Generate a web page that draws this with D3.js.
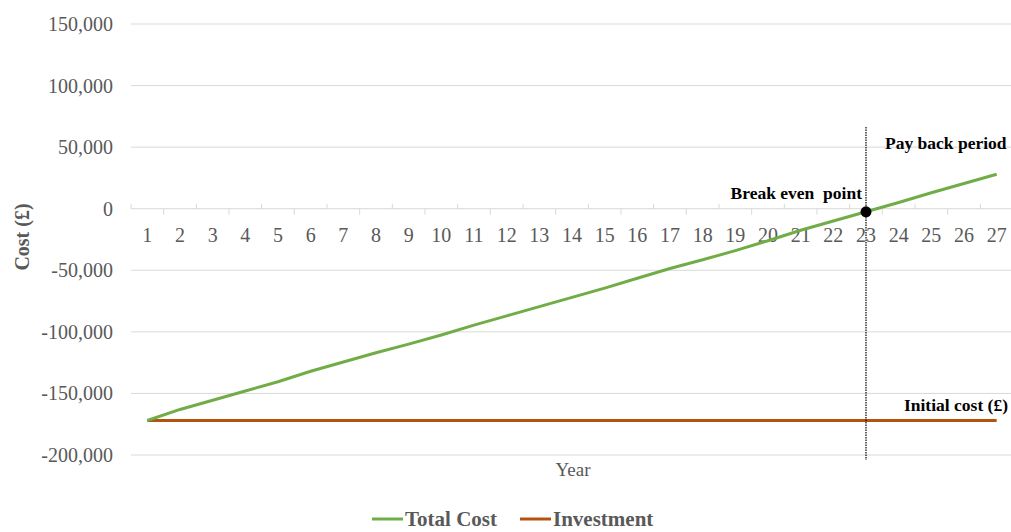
<!DOCTYPE html>
<html lang="en">
<head>
<meta charset="UTF-8">
<title>Payback chart</title>
<script src="https://d3js.org/d3.v7.min.js"></script>
<style>
  body { margin: 0; background: #fff; font-family: 'Liberation Serif', 'Times New Roman', serif; }
  .tick-label { font-size: 20px; fill: #595959; }
  .note { font-size: 17.5px; font-weight: bold; fill: #000; }
</style>
</head>
<body>
<svg id="chart" width="1011" height="532"></svg>
<script>
// data
const years = d3.range(1, 28);
const totalCost = [-172000, -163000, -155500, -148000, -140500, -132000, -124500, -117000, -110000,
  -102500, -94500, -87000, -79500, -72000, -64500, -56500, -48500, -41500, -34000,
  -26000, -17500, -10000, -2500, 5000, 13000, 20500, 28000];
const investment = years.map(() => -172000);
const yTicks = [150000, 100000, 50000, 0, -50000, -100000, -150000, -200000];
const breakEvenYear = 23;

const svg = d3.select('#chart');
const W = 1011;

const x = d3.scaleBand().domain(years).range([131, 1013]);
const y = d3.scaleLinear().domain([-200000, 150000]).range([455, 24]);
const cx = d => x(d) + x.bandwidth() / 2;
// excel style: plain hyphen for negatives
const fmt = d => d3.format(',')(d).replace('\u2212', '-');

// gridlines
svg.append('g').selectAll('line')
  .data(yTicks.filter(d => d !== 0))
  .enter().append('line')
  .attr('x1', 131).attr('x2', W)
  .attr('y1', d => y(d)).attr('y2', d => y(d))
  .attr('stroke', '#d9d9d9').attr('stroke-width', 1);

// y labels
svg.append('g').selectAll('text')
  .data(yTicks)
  .enter().append('text')
  .attr('class', 'tick-label')
  .attr('x', 113).attr('y', d => y(d))
  .attr('dy', '0.35em')
  .attr('text-anchor', 'end')
  .text(d => fmt(d));

// category axis at zero
const y0 = y(0);
svg.append('line')
  .attr('x1', 131).attr('x2', W)
  .attr('y1', y0).attr('y2', y0)
  .attr('stroke', '#d9d9d9').attr('stroke-width', 1);

svg.append('g').selectAll('line')
  .data(d3.range(0, years.length + 1))
  .enter().append('line')
  .attr('x1', i => 131 + i * x.bandwidth())
  .attr('x2', i => 131 + i * x.bandwidth())
  .attr('y1', i => i % 2 === 0 ? y0 - 5 : y0)
  .attr('y2', i => i % 2 === 0 ? y0 : y0 + 6)
  .attr('stroke', '#d9d9d9').attr('stroke-width', 1);

svg.append('g').selectAll('text')
  .data(years)
  .enter().append('text')
  .attr('class', 'tick-label')
  .attr('x', d => cx(d)).attr('y', 242)
  .attr('text-anchor', 'middle')
  .text(d => d);

// axis titles
svg.append('text')
  .attr('transform', 'translate(29,237) rotate(-90)')
  .attr('text-anchor', 'middle')
  .style('font-size', '20px').style('font-weight', 'bold').style('fill', '#595959')
  .text('Cost (£)');

svg.append('text')
  .attr('x', 573).attr('y', 476)
  .attr('text-anchor', 'middle')
  .style('font-size', '19px').style('fill', '#595959')
  .text('Year');

// lines
const line = d3.line().x((d, i) => cx(years[i])).y(d => y(d));

svg.append('path')
  .datum(investment)
  .attr('d', line)
  .attr('fill', 'none').attr('stroke', '#b4520f').attr('stroke-width', 3);

svg.append('path')
  .datum(totalCost)
  .attr('d', line)
  .attr('fill', 'none').attr('stroke', '#70ad47').attr('stroke-width', 3);

// break even marker
const bx = cx(breakEvenYear);
svg.append('line')
  .attr('x1', bx).attr('x2', bx)
  .attr('y1', 127).attr('y2', 460)
  .attr('stroke', '#000').attr('stroke-width', 1.2)
  .attr('stroke-dasharray', '1.5,1');

svg.append('circle')
  .attr('cx', bx).attr('cy', y(totalCost[years.indexOf(breakEvenYear)]))
  .attr('r', 5.5).attr('fill', '#000');

svg.append('text').attr('class', 'note')
  .attr('x', 885).attr('y', 149)
  .text('Pay back period');

svg.append('text').attr('class', 'note')
  .attr('x', 862).attr('y', 199)
  .attr('text-anchor', 'end')
  .style('white-space', 'pre')
  .text('Break even  point');

svg.append('text').attr('class', 'note')
  .attr('x', 1008).attr('y', 411)
  .attr('text-anchor', 'end')
  .text('Initial cost (£)');

// legend
const legend = [
  { name: 'Total Cost', color: '#70ad47', x: 372 },
  { name: 'Investment', color: '#b4520f', x: 520 }
];
const lg = svg.append('g').selectAll('g').data(legend).enter().append('g');
lg.append('line')
  .attr('x1', d => d.x).attr('x2', d => d.x + 31)
  .attr('y1', 519).attr('y2', 519)
  .attr('stroke', d => d.color).attr('stroke-width', 3);
lg.append('text')
  .attr('x', d => d.x + 33).attr('y', 526)
  .style('font-size', '21px').style('font-weight', 'bold').style('fill', '#595959')
  .text(d => d.name);
</script>
</body>
</html>
